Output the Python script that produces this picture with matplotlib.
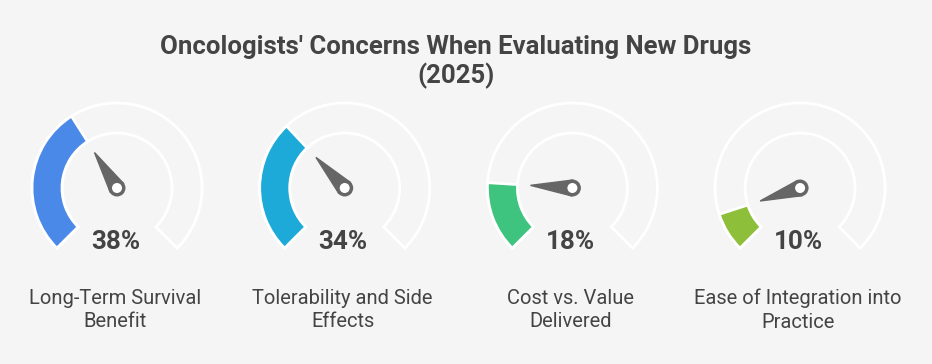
import matplotlib.pyplot as plt
from matplotlib.patches import Wedge, Circle, Polygon
import numpy as np

plt.rcParams['font.family'] = ['Roboto', 'DejaVu Sans']

# data
labels = ["Long-Term Survival\nBenefit", "Tolerability and Side\nEffects",
          "Cost vs. Value\nDelivered", "Ease of Integration into\nPractice"]
values = [38, 34, 18, 10]
colors = ["#4a89e8", "#1eaad9", "#3ec47f", "#8dbf3b"]

W, H = 932, 364
fig = plt.figure(figsize=(W/100, H/100), dpi=100)
fig.patch.set_facecolor("#f5f5f5")
ax = fig.add_axes([0, 0, 1, 1])
ax.set_xlim(0, W)
ax.set_ylim(0, H)
ax.set_aspect("equal")
ax.axis("off")

#pixel helper, y measured from top
def py(y):
    return H - y

r_out = 85
r_in = 55
start = 225
sweep = 270
cx0 = 117
step = 227.7
cy = py(188)

for i in range(len(values)):
    cx = cx0 + i*step
    v = values[i]
    end = start - sweep*v/100
    # track
    ax.add_patch(Wedge((cx, cy), r_out, start - sweep, start, width=r_out - r_in,
                       facecolor="none", edgecolor="white", lw=2))
    # filled part
    ax.add_patch(Wedge((cx, cy), r_out, end, start, width=r_out - r_in,
                       facecolor=colors[i], edgecolor="white", lw=2))
    # needle
    a = np.radians(end)
    tip = (cx + 42*np.cos(a), cy + 42*np.sin(a))
    pa = a + np.pi/2
    p1 = (cx + 8*np.cos(pa), cy + 8*np.sin(pa))
    p2 = (cx - 8*np.cos(pa), cy - 8*np.sin(pa))
    ax.add_patch(Polygon([tip, p1, p2], closed=True, facecolor="#666666", edgecolor="#666666", lw=1))
    ax.add_patch(Circle((cx, cy), 8.5, facecolor="#666666", edgecolor="none"))
    ax.add_patch(Circle((cx, cy), 5, facecolor="white", edgecolor="none"))
    # value
    ax.text(cx - 1.5, py(242), f"{v}%", ha="center", va="center", fontsize=18.7,
            fontweight="bold", color="#444444")
    # label
    ax.text(cx - 2, py(310), labels[i], ha="center", va="center", fontsize=14.5,
            color="#444444", linespacing=1.3)

ax.text(W/2 - 10, py(62), "Oncologists' Concerns When Evaluating New Drugs\n(2025)",
        ha="center", va="center", fontsize=18.5, fontweight="bold",
        color="#444444", linespacing=1.17)

fig.savefig("out.png", dpi=100, facecolor=fig.get_facecolor())
